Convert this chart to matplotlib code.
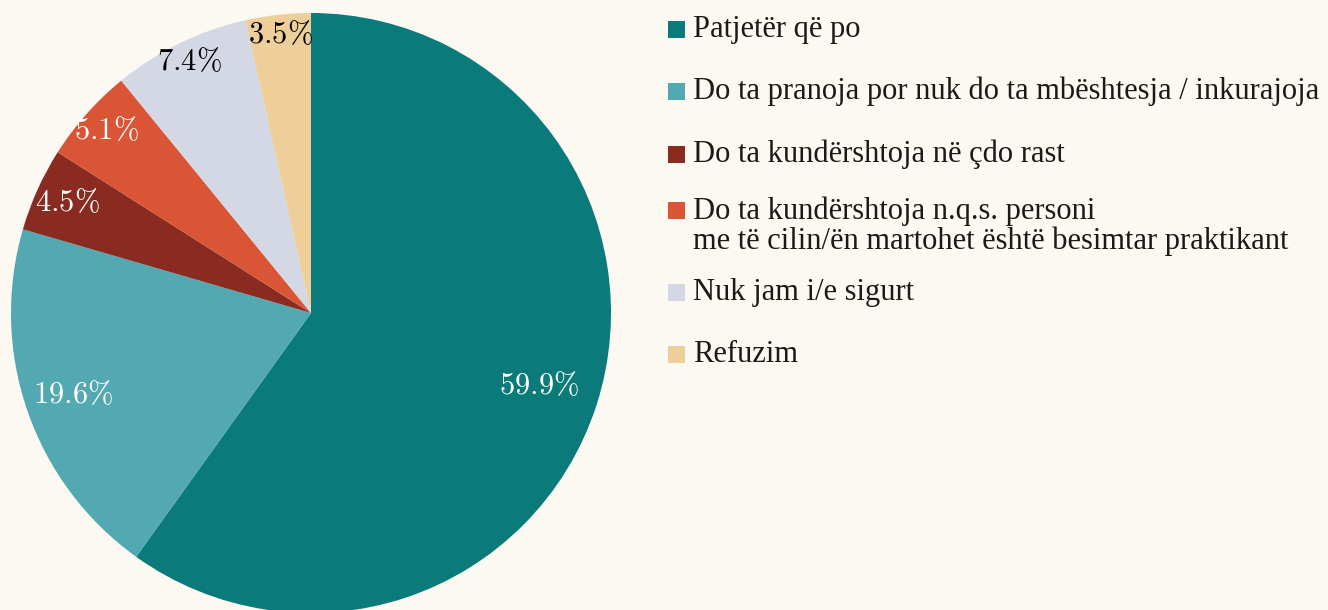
import matplotlib
matplotlib.use("Agg")
import matplotlib.pyplot as plt
from matplotlib.patches import Rectangle
import numpy as np

labels = [
    "Patjetër që po",
    "Do ta pranoja por nuk do ta mbështesja / inkurajoja",
    "Do ta kundërshtoja në çdo rast",
    "Do ta kundërshtoja n.q.s. personi\nme të cilin/ën martohet është besimtar praktikant",
    "Nuk jam i/e sigurt",
    "Refuzim",
]
values = [59.9, 19.6, 4.5, 5.1, 7.4, 3.5]
colors = ["#0b7a7a", "#53a9b2", "#892b21", "#d95536", "#d4d8e4", "#efcf99"]
text_colors = ["white", "white", "white", "white", "black", "black"]
label_dist = [0.80, 0.84, 0.89, 0.91, 0.93, 0.93]

bg = "#fcf9f2"
plt.rcParams["font.family"] = ["Liberation Serif", "DejaVu Serif"]
plt.rcParams["mathtext.fontset"] = "cm"

W, H = 1328, 610
fig = plt.figure(figsize=(W / 100, H / 100), dpi=100, facecolor=bg)
ax = fig.add_axes([11 / W, -3 / H, 600 / W, 600 / H])
ax.set_facecolor(bg)

wedges, _ = ax.pie(values, colors=colors, startangle=90, counterclock=False,
                   radius=1.0, wedgeprops=dict(linewidth=0))
for w, v, tc, d in zip(wedges, values, text_colors, label_dist):
    ang = np.deg2rad((w.theta1 + w.theta2) / 2)
    ax.text(d * np.cos(ang), d * np.sin(ang), r"$%.1f\%%$" % v,
            ha="center", va="center", color=tc, fontsize=22)
ax.set_xlim(-1, 1)
ax.set_ylim(-1, 1)
ax.set_aspect("equal")
ax.axis("off")

# legend drawn by hand: square aligned to the first line of each entry
entry_y = [29, 91.5, 154, 210.5, 292, 354]  # pixel centres of the squares
sq = 17
for lab, c, yc in zip(labels, colors, entry_y):
    fig.add_artist(Rectangle((668 / W, 1 - (yc + sq / 2) / H), sq / W, sq / H,
                             transform=fig.transFigure, facecolor=c, edgecolor="none"))
    for i, line in enumerate(lab.split("\n")):
        fig.text(693 / W, 1 - (yc + 8 + 30 * i) / H, line, fontsize=22,
                 ha="left", va="baseline", color="#1a1a1a")

fig.savefig("out.png", dpi=100, facecolor=bg)
